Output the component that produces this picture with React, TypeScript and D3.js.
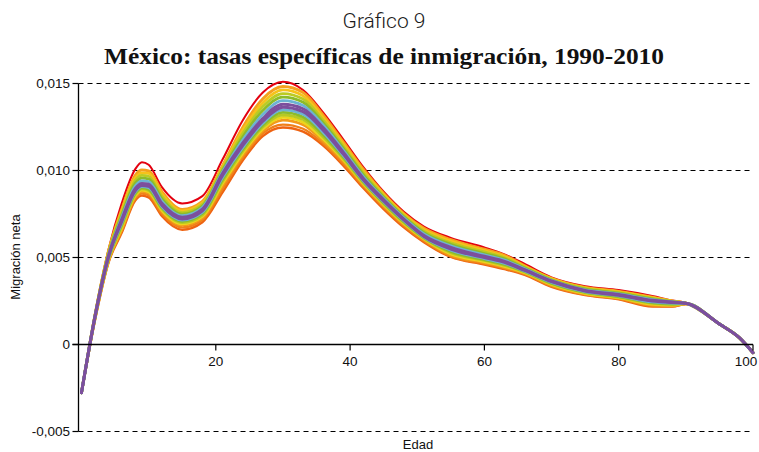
import React from 'react';
import * as d3 from 'd3';

// Edad (age knots)
const AGES = [0, 2, 4, 6, 8, 9, 10, 12, 15, 18, 21, 24, 27, 30, 33, 36, 39, 42, 45, 48, 51, 55, 60, 63, 66, 70, 75, 80, 85, 88, 90, 95, 98, 100];

// Tasas (one array per curve, top to bottom)
const S_RED = [-0.0028, 0.0017, 0.0054, 0.0081, 0.01005, 0.01045, 0.0103, 0.009, 0.00808, 0.0085, 0.0106, 0.01285, 0.01445, 0.01507, 0.0146, 0.0133, 0.01175, 0.01015, 0.00875, 0.0076, 0.00675, 0.0061, 0.00555, 0.00515, 0.0046, 0.00383, 0.00332, 0.0031, 0.00276, 0.0025, 0.00236, 0.00115, 0.00035, -0.0005];
const S_B0 = [-0.0028, 0.00165, 0.0053, 0.00775, 0.0097, 0.01, 0.00995, 0.00875, 0.00774, 0.0082, 0.01025, 0.01245, 0.0141, 0.0148, 0.01445, 0.01315, 0.0116, 0.01003, 0.00865, 0.0075, 0.00665, 0.006, 0.00545, 0.0051, 0.0045, 0.00378, 0.00326, 0.00303, 0.0027, 0.00247, 0.00235, 0.00115, 0.00035, -0.0005];
const S_B1 = [-0.0028, 0.00163, 0.00525, 0.00763, 0.00955, 0.00984, 0.0098, 0.00861, 0.00765, 0.00811, 0.01016, 0.01227, 0.01387, 0.0146, 0.01426, 0.013, 0.01148, 0.00992, 0.00858, 0.00744, 0.00657, 0.00591, 0.00537, 0.00503, 0.00445, 0.00375, 0.00322, 0.00299, 0.00266, 0.00246, 0.00235, 0.00115, 0.00035, -0.0005];
const S_B2 = [-0.0028, 0.00161, 0.00519, 0.00751, 0.00939, 0.00969, 0.00964, 0.00848, 0.00755, 0.00802, 0.01007, 0.01209, 0.01365, 0.01439, 0.01408, 0.01286, 0.01136, 0.00982, 0.0085, 0.00737, 0.00649, 0.00582, 0.00529, 0.00496, 0.00441, 0.00371, 0.00319, 0.00295, 0.00262, 0.00244, 0.00235, 0.00115, 0.00035, -0.0005];
const S_B3 = [-0.0028, 0.0016, 0.00514, 0.0074, 0.00924, 0.00953, 0.00949, 0.00834, 0.00746, 0.00793, 0.00998, 0.0119, 0.01342, 0.01419, 0.01389, 0.01271, 0.01125, 0.00971, 0.00843, 0.00731, 0.0064, 0.00573, 0.0052, 0.00489, 0.00436, 0.00368, 0.00315, 0.00292, 0.00259, 0.00243, 0.00235, 0.00115, 0.00035, -0.0005];
const S_B4 = [-0.0028, 0.00158, 0.00508, 0.00728, 0.00908, 0.00937, 0.00933, 0.0082, 0.00737, 0.00784, 0.00989, 0.01172, 0.01319, 0.01399, 0.01371, 0.01257, 0.01113, 0.00961, 0.00836, 0.00725, 0.00632, 0.00564, 0.00512, 0.00482, 0.00432, 0.00365, 0.00311, 0.00288, 0.00255, 0.00242, 0.00234, 0.00115, 0.00035, -0.0005];
const S_B5 = [-0.0028, 0.00156, 0.00503, 0.00716, 0.00893, 0.00922, 0.00918, 0.00807, 0.00728, 0.00775, 0.0098, 0.01154, 0.01296, 0.01378, 0.01352, 0.01242, 0.01101, 0.0095, 0.00829, 0.00718, 0.00624, 0.00555, 0.00504, 0.00475, 0.00427, 0.00362, 0.00308, 0.00284, 0.00251, 0.00241, 0.00234, 0.00115, 0.00035, -0.0005];
const S_B6 = [-0.0028, 0.00154, 0.00498, 0.00705, 0.00881, 0.00911, 0.00906, 0.00796, 0.00719, 0.00766, 0.00969, 0.0114, 0.0128, 0.01361, 0.01335, 0.01229, 0.01091, 0.00942, 0.00822, 0.00713, 0.00618, 0.00546, 0.00497, 0.00469, 0.00423, 0.00358, 0.00304, 0.0028, 0.00247, 0.00238, 0.00234, 0.00115, 0.00035, -0.0005];
const S_B7 = [-0.0028, 0.00152, 0.00493, 0.00696, 0.00874, 0.00904, 0.00898, 0.00789, 0.00712, 0.00758, 0.00957, 0.01129, 0.01269, 0.01346, 0.0132, 0.01216, 0.01083, 0.00937, 0.00817, 0.00708, 0.00615, 0.00539, 0.00491, 0.00463, 0.0042, 0.00354, 0.00301, 0.00277, 0.00242, 0.00235, 0.00233, 0.00115, 0.00035, -0.0005];
const S_B8 = [-0.0028, 0.0015, 0.00489, 0.00687, 0.00867, 0.00898, 0.0089, 0.00782, 0.00705, 0.0075, 0.00945, 0.01118, 0.01258, 0.01331, 0.01305, 0.01203, 0.01075, 0.00931, 0.00811, 0.00703, 0.00611, 0.00532, 0.00485, 0.00457, 0.00417, 0.0035, 0.00298, 0.00273, 0.00238, 0.00231, 0.00233, 0.00115, 0.00035, -0.0005];
const S_B9 = [-0.0028, 0.00149, 0.00484, 0.00678, 0.0086, 0.00891, 0.00883, 0.00775, 0.00698, 0.00741, 0.00934, 0.01107, 0.01247, 0.01316, 0.0129, 0.0119, 0.01066, 0.00926, 0.00806, 0.00698, 0.00607, 0.00525, 0.0048, 0.00452, 0.00414, 0.00346, 0.00295, 0.0027, 0.00233, 0.00227, 0.00232, 0.00115, 0.00035, -0.0005];
const S_B10 = [-0.0028, 0.00147, 0.0048, 0.00669, 0.00852, 0.00885, 0.00875, 0.00767, 0.0069, 0.00733, 0.00922, 0.01096, 0.01236, 0.01302, 0.01275, 0.01178, 0.01058, 0.0092, 0.008, 0.00693, 0.00604, 0.00517, 0.00474, 0.00446, 0.0041, 0.00342, 0.00291, 0.00266, 0.00229, 0.00224, 0.00232, 0.00115, 0.00035, -0.0005];
const S_B11 = [-0.0028, 0.00145, 0.00475, 0.0066, 0.00845, 0.00878, 0.00867, 0.0076, 0.00683, 0.00725, 0.0091, 0.01085, 0.01225, 0.01287, 0.0126, 0.01165, 0.0105, 0.00915, 0.00795, 0.00688, 0.006, 0.0051, 0.00468, 0.0044, 0.00407, 0.00338, 0.00288, 0.00263, 0.00224, 0.0022, 0.00231, 0.00115, 0.00035, -0.0005];
const S_LOW1 = [-0.0028, 0.0014, 0.0047, 0.0065, 0.00835, 0.00865, 0.00855, 0.00747, 0.0067, 0.00713, 0.0089, 0.0107, 0.0121, 0.01261, 0.01237, 0.01152, 0.01037, 0.00905, 0.00785, 0.00679, 0.00592, 0.00504, 0.00462, 0.00435, 0.00402, 0.00333, 0.00284, 0.0026, 0.0022, 0.00217, 0.0023, 0.00115, 0.00035, -0.0005];
const S_LOW2 = [-0.0028, 0.00135, 0.00465, 0.0064, 0.00825, 0.00853, 0.00843, 0.00734, 0.00657, 0.007, 0.00872, 0.01055, 0.01195, 0.01244, 0.0122, 0.0114, 0.01025, 0.00895, 0.00775, 0.0067, 0.00585, 0.005, 0.00457, 0.0043, 0.00397, 0.00329, 0.00281, 0.00257, 0.00215, 0.00215, 0.00229, 0.00115, 0.00035, -0.0005];

const Y_TICKS = [-0.005, 0, 0.005, 0.01, 0.015];
const Y_TICK_LABELS = ['-0,005', '0', '0,005', '0,010', '0,015'];
const X_TICKS = [20, 40, 60, 80, 100];
const X_TICK_LABELS = ['20', '40', '60', '80', '100'];

const TITLE = 'Gráfico 9';
const SUBTITLE = 'México: tasas específicas de inmigración, 1990-2010';
const X_TITLE = 'Edad';
const Y_TITLE = 'Migración neta';

// drawing order: outer curves first, purple core last
const SERIES = [
  { values: S_RED, color: '#e3000f', width: 2 },
  { values: S_LOW2, color: '#ee6312', width: 2.4 },
  { values: S_LOW1, color: '#f07f1a', width: 2.4 },
  { values: S_B0, color: '#f5a01e', width: 2.8 },
  { values: S_B11, color: '#f29a1a', width: 2.8 },
  { values: S_B1, color: '#f6c21a', width: 2.8 },
  { values: S_B10, color: '#ecd51c', width: 2.8 },
  { values: S_B2, color: '#bccb22', width: 2.8 },
  { values: S_B9, color: '#b6c924', width: 2.8 },
  { values: S_B3, color: '#8dbb2b', width: 2.8 },
  { values: S_B8, color: '#8dbb2b', width: 2.8 },
  { values: S_B4, color: '#6cb3d3', width: 2.8 },
  { values: S_B7, color: '#6cb3d3', width: 2.8 },
  { values: S_B5, color: '#7c4f9d', width: 3 },
  { values: S_B6, color: '#7c4f9d', width: 3 },
];

export default function App() {
  const W = 759;
  const H = 452;
  const x = d3.scaleLinear().domain([0, 100]).range([81.5, 753]);
  const y = d3.scaleLinear().domain([-0.005, 0.015]).range([431, 83]);
  const axisX = 78.5;
  const xEnd = 753;

  const line = d3
    .line<number>()
    .x((_, i) => x(AGES[i]))
    .y((d) => y(d))
    .curve(d3.curveMonotoneX);

  const snap = (v: number) => Math.round(v) + 0.5;
  const tickFont = '"Liberation Sans", Arial, sans-serif';

  return (
    <svg
      width={W}
      height={H}
      viewBox={`0 0 ${W} ${H}`}
      style={{ position: 'absolute', left: 0, top: 0, background: '#fff' }}
    >
      <rect x={0} y={0} width={W} height={H} fill="#fff" />
      <text x={384} y={28} textAnchor="middle" fontFamily="Roboto, 'Liberation Sans', sans-serif" fontWeight={300} fontSize={21} fill="#1a1a1a">
        {TITLE}
      </text>
      <text
        x={384}
        y={64}
        textAnchor="middle"
        fontFamily="'Liberation Serif', 'DejaVu Serif', serif"
        fontWeight={700}
        fontSize={23}
        textLength={560}
        lengthAdjust="spacingAndGlyphs"
        fill="#111"
      >
        {SUBTITLE}
      </text>

      {/* grid lines */}
      {Y_TICKS.filter((t) => t !== 0).map((t) => (
        <line key={'g' + t} x1={axisX} x2={xEnd} y1={snap(y(t))} y2={snap(y(t))} stroke="#000" strokeWidth={1} strokeDasharray="5,4" />
      ))}

      {/* curves */}
      <g fill="none" strokeLinejoin="round" strokeLinecap="round">
        {SERIES.map((s, i) => (
          <path key={i} d={line(s.values) || ''} stroke={s.color} strokeWidth={s.width} />
        ))}
      </g>

      {/* y axis */}
      <line x1={axisX} x2={axisX} y1={snap(y(0.015))} y2={snap(y(-0.005))} stroke="#000" strokeWidth={1.3} />
      {Y_TICKS.map((t, i) => (
        <g key={'yt' + t}>
          <line x1={axisX - 6} x2={axisX} y1={snap(y(t))} y2={snap(y(t))} stroke="#000" strokeWidth={1.2} />
          <text x={70} y={y(t)} dy="0.35em" textAnchor="end" fontFamily={tickFont} fontSize={13.5} fill="#111">
            {Y_TICK_LABELS[i]}
          </text>
        </g>
      ))}

      {/* x axis at zero */}
      <line x1={axisX - 6} x2={xEnd} y1={snap(y(0))} y2={snap(y(0))} stroke="#000" strokeWidth={1.3} />
      {X_TICKS.map((t, i) => (
        <g key={'xt' + t}>
          <line x1={x(t)} x2={x(t)} y1={snap(y(0))} y2={snap(y(0)) + 6} stroke="#000" strokeWidth={1.2} />
          <text x={Math.min(x(t), W - 13)} y={snap(y(0)) + 21} textAnchor="middle" fontFamily={tickFont} fontSize={13.5} fill="#111">
            {X_TICK_LABELS[i]}
          </text>
        </g>
      ))}

      <text x={418} y={449} textAnchor="middle" fontFamily={tickFont} fontSize={13} fill="#111">
        {X_TITLE}
      </text>
      <text transform={`translate(20,${257}) rotate(-90)`} textAnchor="middle" fontFamily={tickFont} fontSize={13} fill="#111">
        {Y_TITLE}
      </text>
    </svg>
  );
}
